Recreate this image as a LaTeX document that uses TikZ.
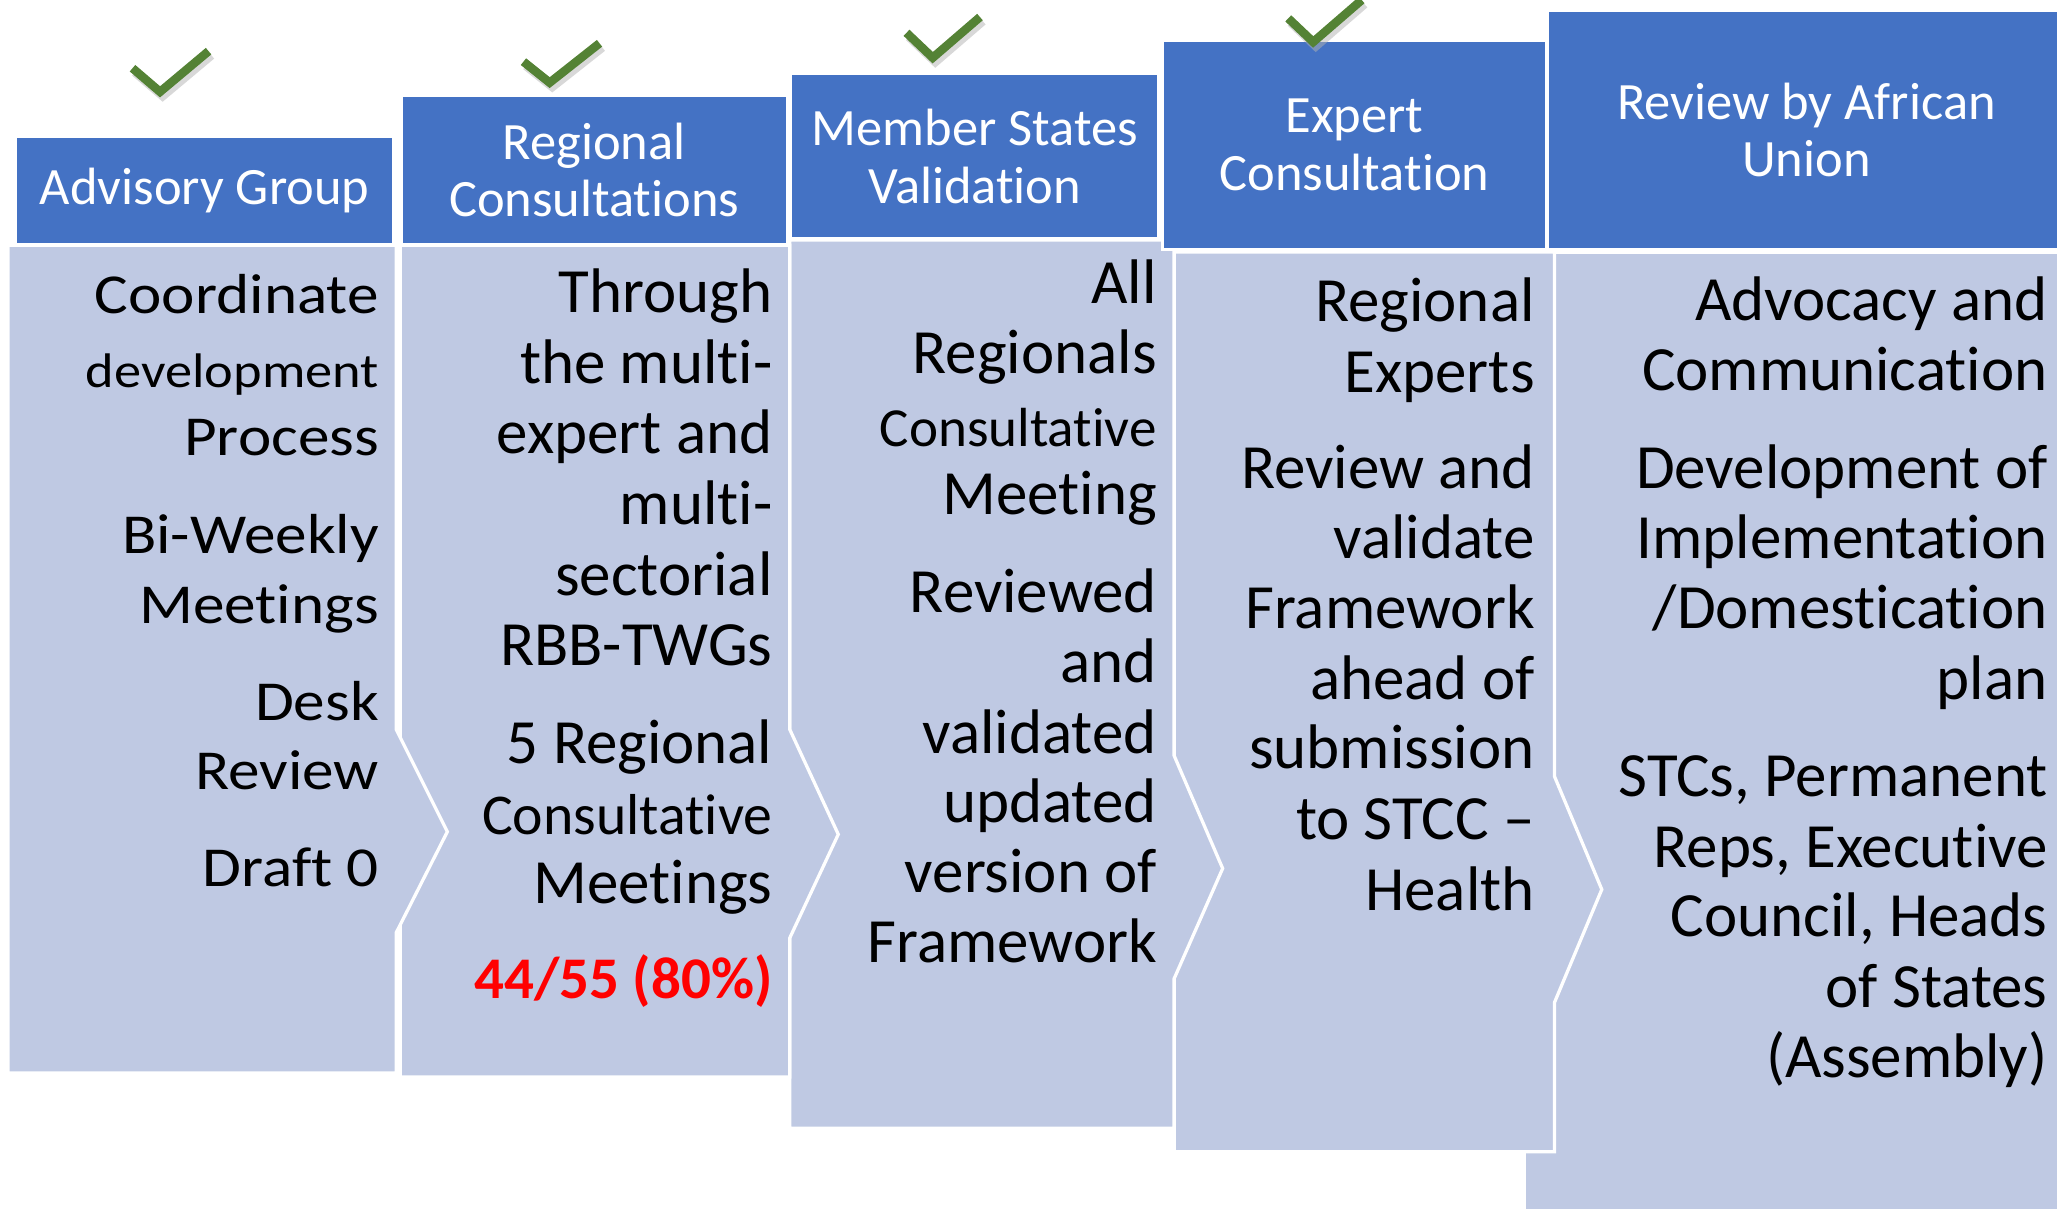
\documentclass[tikz,border=0pt]{standalone}
\usepackage{fontspec}
\setmainfont[Ligatures=NoCommon]{Carlito}
\newfontfamily\widefont[FakeStretch=1.12,Ligatures=NoCommon]{Carlito}
\definecolor{hdrblue}{HTML}{4472C4}
\definecolor{bodyblue}{HTML}{BFC9E3}
\definecolor{chkgreen}{HTML}{548235}
\newcommand\smallsz[1]{\fontsize{#1}{#1}\selectfont}
\begin{document}
\begin{tikzpicture}[x=1pt,y=-1pt,
  hdr/.style={fill=hdrblue,draw=white,line width=2pt,text=white,align=center,
    font=\fontsize{40}{44}\selectfont,inner sep=0pt},
  bodyshape/.style={fill=bodyblue,draw=white,line width=2.5pt,line join=miter},
  txtline/.style={anchor=base east,inner sep=0pt,font=\fontsize{48}{54}\selectfont},
  widetxt/.style={anchor=base east,inner sep=0pt,font=\widefont\fontsize{43}{50}\selectfont},
  check/.style={draw=chkgreen,line width=6.5pt,line join=miter},
  checkshadow/.style={draw=black!30,opacity=0.5,line width=7pt,line join=miter},
]
\useasboundingbox (0,0) rectangle (1568,921);
% bodies (last column first, so each arrow point lies on top of the next column)
\path[bodyshape] (1162,192) rectangle (1574,926);
\path[bodyshape] (895,192) -- (1185,192) -- (1185,592) -- (1221,678) -- (1185,764) -- (1185,878) -- (895,878) -- cycle;
\path[bodyshape] (602,183) -- (895,183) -- (895,576) -- (932,662) -- (895,746) -- (895,860) -- (602,860) -- cycle;
\path[bodyshape] (305,187) -- (602,187) -- (602,556) -- (639,636) -- (602,715) -- (602,821) -- (305,821) -- cycle;
\path[bodyshape] (6,187) -- (302,187) -- (302,556) -- (341,634) -- (302,711) -- (302,818) -- (6,818) -- cycle;
% headers
\node[hdr,minimum width=288pt,minimum height=82pt] (h1) at (156,145) {Advisory Group};
\node[hdr,minimum width=294pt,minimum height=113pt] (h2) at (453,129.5) {Regional\\Consultations};
\node[hdr,minimum width=280pt,minimum height=126pt] (h3) at (743,119) {Member States\\Validation};
\node[hdr,minimum width=293pt,minimum height=159pt] (h4) at (1032.5,110.5) {Expert\\Consultation};
\node[hdr,minimum width=394pt,minimum height=182pt] (h5) at (1377,99) {Review by African\\Union};
% checkmarks
\foreach \ax/\ay/\bx/\by/\cx/\cy in {101/52/122/70/159/39, 399/47/419/63/457/33, 691/25/711/44/747/13, 982/14/1001/32/1038/0}{
  \draw[checkshadow] (\ax+2,\ay+3) -- (\bx+2,\by+3) -- (\cx+2,\cy+3);
  \draw[check] (\ax,\ay) -- (\bx,\by) -- (\cx,\cy);
}
% column 1
\foreach \y/\t [count=\i] in {224/Coordinate, 280/{\smallsz{37}development}, 332/Process, 407/Bi-Weekly, 460/Meetings, 534/Desk, 587/Review, 661/Draft 0}
  \node[widetxt] (a\i) at (289,{\y+15}) {\t};
% column 2
\foreach \y/\t [count=\i] in {223/Through, 277/the multi-, 331/expert and, 385/multi-, 439/sectorial, 492/RBB-TWGs, 567/5 Regional, 621/{\smallsz{44}Consultative}, 674/Meetings}
  \node[txtline] (b\i) at (589,{\y+15}) {\t};
\node[txtline,text=red,font=\bfseries\fontsize{45}{50}\selectfont] (bred) at (589,761) {44/55 (80\%)};
% column 3
\foreach \y/\t [count=\i] in {216/All, 270/Regionals, 325/{\smallsz{42}Consultative}, 377/Meeting, 452/Reviewed, 505/and, 559/validated, 612/updated, 665/version of, 719/Framework}
  \node[txtline] (c\i) at (882,{\y+15}) {\t};
% column 4
\foreach \y/\t [count=\i] in {230/Regional, 284/Experts, 357/Review and, 411/validate, 464/Framework, 518/ahead of, 571/submission, 625/to STCC –, 679/Health}
  \node[txtline] (d\i) at (1170,{\y+15}) {\t};
% column 5
\foreach \y/\t [count=\i] in {229/Advocacy and, 283/Communication, 357/Development of, 411/Implementation, 464/{/Domestication}, 518/plan, 592/{STCs, Permanent}, 646/{Reps, Executive}, 699/{Council, Heads}, 753/of States, 806/(Assembly)}
  \node[txtline] (e\i) at (1561,{\y+15}) {\t};
\end{tikzpicture}
\end{document}
